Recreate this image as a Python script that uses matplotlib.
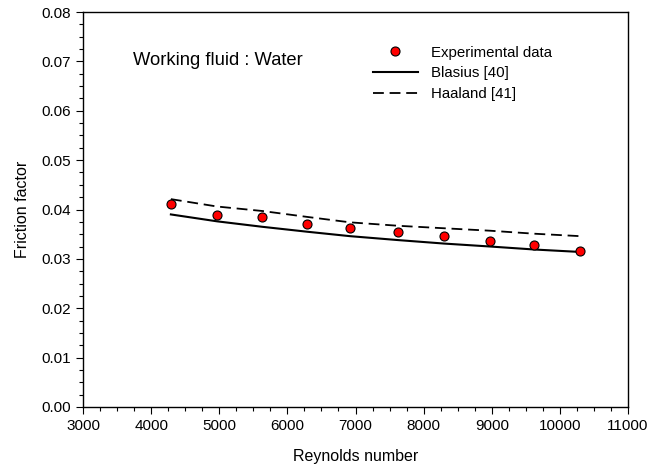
import matplotlib
matplotlib.use("Agg")
import matplotlib.pyplot as plt
from matplotlib.ticker import MultipleLocator

plt.rcParams['font.family'] = ['Liberation Sans', 'DejaVu Sans']

# Data
reynolds = [4290, 4970, 5630, 6290, 6920, 7630, 8300, 8980, 9620, 10300]
f_exp = [0.0411, 0.0388, 0.0385, 0.0371, 0.0363, 0.0355, 0.0346, 0.0336, 0.0328, 0.0316]
f_blasius = [0.0390, 0.0376, 0.0365, 0.0355, 0.0346, 0.0338, 0.0331, 0.0325, 0.0319, 0.0314]
f_haaland = [0.0421, 0.0406, 0.0397, 0.0385, 0.0374, 0.0367, 0.0362, 0.0357, 0.0351, 0.0346]

fig = plt.figure(figsize=(6.52, 4.71), dpi=100)
ax = fig.add_axes([0.1273, 0.1359, 0.8359, 0.8386])

ax.plot(reynolds, f_exp, 'o', color='red', markeredgecolor='black',
        markeredgewidth=0.8, markersize=6.5, label='Experimental data', zorder=3)
ax.plot(reynolds, f_blasius, '-', color='black', lw=1.5, label='Blasius [40]')
ax.plot(reynolds, f_haaland, '--', color='black', lw=1.3, dashes=(6, 3.2),
        label='Haaland [41]')

ax.set_xlim(3000, 11000)
ax.set_ylim(0, 0.08)
ax.xaxis.set_major_locator(MultipleLocator(1000))
ax.xaxis.set_minor_locator(MultipleLocator(250))
ax.yaxis.set_major_locator(MultipleLocator(0.01))
ax.yaxis.set_minor_locator(MultipleLocator(0.0025))
ax.yaxis.set_major_formatter(plt.FormatStrFormatter('%.2f'))

ax.tick_params(which='both', direction='out', top=False, right=False, labelsize=11)
ax.tick_params(which='major', length=5, width=0.8)
ax.tick_params(which='minor', length=3, width=0.8)
for s in ax.spines.values():
    s.set_linewidth(1.0)

ax.set_xlabel('Reynolds number', fontsize=11.5, labelpad=12)
ax.set_ylabel('Friction factor', fontsize=11.5, labelpad=8)

ax.text(0.092, 0.878, 'Working fluid : Water', transform=ax.transAxes,
        fontsize=13.2, va='center', ha='left')

ax.legend(loc='upper left', bbox_to_anchor=(0.532, 0.915), frameon=False,
          fontsize=10.8, handlelength=3.0, handletextpad=0.85, labelspacing=0.45,
          borderpad=0, borderaxespad=0)

fig.savefig('out.png', dpi=100)
